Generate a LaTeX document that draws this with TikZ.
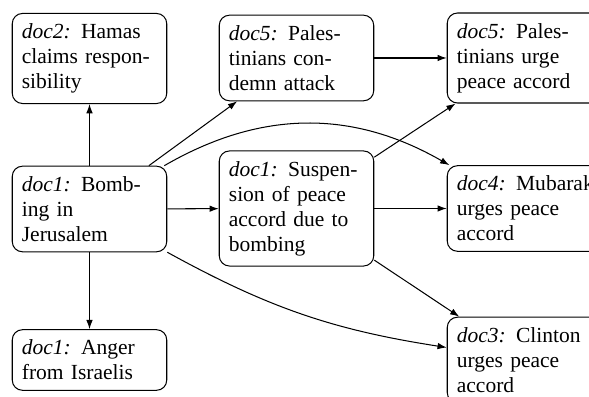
\documentclass[tikz,border=0pt]{standalone}
\usepackage{fontspec}
\setmainfont{Liberation Serif}
\usetikzlibrary{arrows.meta}
\newcommand{\docl}[2]{\mbox{\textit{#1:}\hspace{5pt}#2}}
\tikzset{
  evbox/.style={draw, line width=0.5pt, rounded corners=5pt, text width=66pt,
    inner xsep=4.7pt, inner ysep=5pt, align=left, font=\fontsize{10.5}{12.2}\selectfont},
  arr/.style={-{Latex[length=4.5pt,width=3.2pt]}, line width=0.5pt}
}
\begin{document}
\begin{tikzpicture}[x=0.488pt, y=-0.488pt]
\useasboundingbox (0,0) rectangle (589,397);
\node[evbox] (A) at (89.5,58.5) {\docl{doc2}{Hamas}\\claims respon-\\sibility};
\node[evbox] (B) at (89.5,209) {\docl{doc1}{Bomb-}\\ing in\\Jerusalem};
\node[evbox] (C) at (89.5,360) {\docl{doc1}{Anger}\\from Israelis};
\node[evbox] (D) at (296.5,58) {\docl{doc5}{Pales-}\\tinians con-\\demn attack};
\node[evbox] (E) at (296.5,208.5) {\docl{doc1}{Suspen-}\\sion of peace\\accord due to\\bombing};
\node[evbox] (F) at (524.5,58) {\docl{doc5}{Pales-}\\tinians urge\\peace accord};
\node[evbox] (G) at (524.5,208.5) {\docl{doc4}{Mubarak}\\urges peace\\accord};
\node[evbox] (H) at (524.5,360) {\docl{doc3}{Clinton}\\urges peace\\accord};
\draw[arr] (B) -- (A);
\draw[arr] (B) -- (C);
\draw[arr] (B) -- (D);
\draw[arr] (B) -- (E);
\draw[arr] (B) to[bend left=30] (G);
\draw[arr] (B) to[bend right=10] (H);
\draw[arr] (D) -- (F);
\draw[arr] (E) -- (F);
\draw[arr] (E) -- (G);
\draw[arr] (E) -- (H);
\end{tikzpicture}
\end{document}
